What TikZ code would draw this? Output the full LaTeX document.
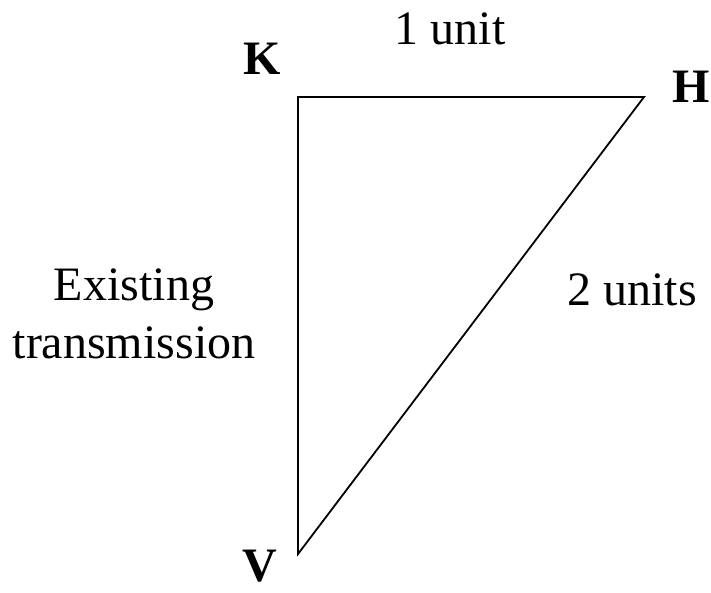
\documentclass[tikz,border=0pt]{standalone}
\usepackage{fontspec}
\setmainfont{Liberation Serif}
\usepackage{tikz}
\tikzset{
  lbl/.style={inner sep=0pt, anchor=base, font=\fontsize{48}{58}\selectfont},
  vlbl/.style={lbl, font=\fontsize{48}{58}\selectfont\bfseries},
  edge/.style={line width=1.8pt, line join=miter}
}

\begin{document}
\begin{tikzpicture}[x=1pt, y=-1pt]
    \useasboundingbox (0,0) rectangle (711,593);

    % Corners of the triangle
    \coordinate (K) at (298,97);
    \coordinate (H) at (644,97);
    \coordinate (V) at (298,554);

    % Sides
    \draw[edge] (K) -- (H) -- (V) -- cycle;

    % Vertex labels
    \node[vlbl] (klbl) at (262,75) {K};
    \node[vlbl] (hlbl) at (691,103) {H};
    \node[vlbl] (vlbl) at (260,581) {V};

    % Side labels
    \node[lbl] (one) at (450,45) {1 unit};
    \node[lbl] (two) at (632,305) {2 units};
    \node[lbl] (exist) at (134,300) {Existing};
    \node[lbl] (trans) at (134,358) {transmission};
\end{tikzpicture}
\end{document}
